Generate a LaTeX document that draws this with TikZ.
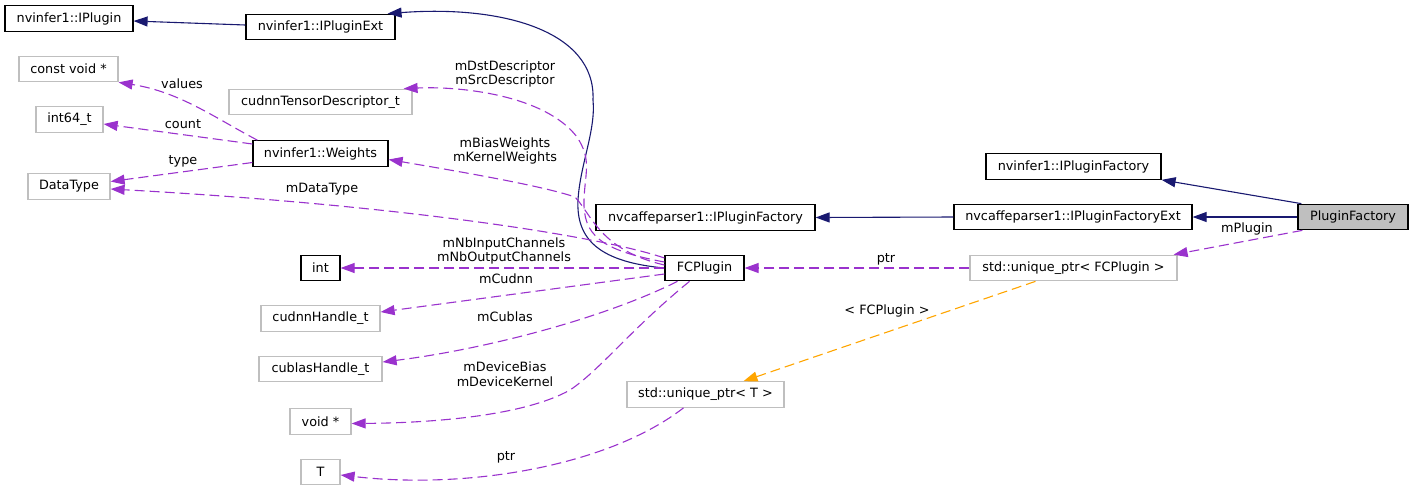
\documentclass[tikz,border=0pt]{standalone}
\usepackage{fontspec}
\setmainfont{DejaVu Sans}
\usepackage{tikz}
\usetikzlibrary{
  arrows.meta,
  positioning,
  calc
}
\definecolor{dgNavy}{HTML}{191970}
\definecolor{dgOrchid}{HTML}{9A32CD}
\definecolor{dgOrange}{HTML}{FFA500}
\definecolor{dgGrey}{HTML}{BFBFBF}
\tikzset{
  dgnode/.style={
    draw=black, fill=white, line width=1.2pt, minimum height=25.5pt,
    inner sep=0pt, font=\fontsize{12.8}{14.5}\selectfont
  },
  docbox/.style={dgnode},
  undocbox/.style={dgnode, draw=dgGrey},
  rootbox/.style={dgnode, fill=dgGrey},
  inherit/.style={-{Triangle[length=14pt, width=10pt]}, line width=1.1pt, dgNavy},
  usage/.style={-{Triangle[length=14pt, width=10pt]}, line width=1.1pt, dgOrchid, dash pattern=on 10pt off 5pt},
  tmpl/.style={-{Triangle[length=14pt, width=10pt]}, line width=1.1pt, dgOrange, dash pattern=on 10pt off 5pt},
  elabel/.style={font=\fontsize{12.8}{14.5}\selectfont, align=center, inner sep=0pt}
}

\begin{document}
\begin{tikzpicture}[x=1pt, y=-1pt]
  \useasboundingbox (0,0) rectangle (1413,491);

  \node[docbox, minimum width=128pt] (ipl) at (69,18.5) {nvinfer1::IPlugin};
  \node[docbox, minimum width=149pt] (iplext) at (320.5,27) {nvinfer1::IPluginExt};
  \node[undocbox, minimum width=99pt] (cvoid) at (68.5,69) {const void *};
  \node[undocbox, minimum width=183pt] (tdesc) at (320.5,102) {cudnnTensorDescriptor\_t};
  \node[undocbox, minimum width=67pt] (i64) at (69.5,119.5) {int64\_t};
  \node[docbox, minimum width=135pt] (wts) at (320.5,153.5) {nvinfer1::Weights};
  \node[undocbox, minimum width=82pt] (dtype) at (69,186.5) {DataType};
  \node[docbox, minimum width=39pt] (int) at (320.5,268) {int};
  \node[undocbox, minimum width=119pt] (cudnn) at (320.5,318.5) {cudnnHandle\_t};
  \node[undocbox, minimum width=123pt] (cublas) at (320.5,369) {cublasHandle\_t};
  \node[undocbox, minimum width=61pt] (vptr) at (320.5,421.5) {void *};
  \node[undocbox, minimum width=39pt] (tT) at (320.5,472) {T};
  \node[docbox, minimum width=219pt] (cpf) at (705.5,217.5) {nvcaffeparser1::IPluginFactory};
  \node[docbox, minimum width=79pt] (fc) at (704.5,268) {FCPlugin};
  \node[undocbox, minimum width=157pt] (uptrT) at (705.5,394.5) {std::unique\_ptr< T >};
  \node[docbox, minimum width=175pt] (ipf) at (1073.5,166.5) {nvinfer1::IPluginFactory};
  \node[docbox, minimum width=238pt] (cpfext) at (1073,217) {nvcaffeparser1::IPluginFactoryExt};
  \node[undocbox, minimum width=207pt] (uptrF) at (1073.5,268) {std::unique\_ptr< FCPlugin >};
  \node[rootbox, minimum width=110pt] (pf) at (1353,217) {PluginFactory};

  \draw[inherit] ($(iplext.west)+(0,-2)$) -- ($(ipl.east)+(0,2.5)$);
  \draw[inherit] (fc.west) .. controls (600,262) and (576,240) .. (578,200)
    .. controls (580,165) and (596,130) .. (593,100)
    .. controls (596,30) and (500,5) .. ($(iplext.north east)+(-8,0)$);
  \draw[inherit] (cpfext.west) -- (cpf.east);
  \draw[inherit] (pf.west) -- (cpfext.east);
  \draw[inherit] ($(pf.north west)+(4,0)$) -- (ipf.south east);

  \draw[usage] ($(wts.north west)+(5,0)$) .. controls (215,118) and (180,92) .. (cvoid.south east);
  \draw[usage] ($(wts.west)+(0,-9.5)$) -- ($(i64.east)+(0,4.5)$);
  \draw[usage] ($(wts.west)+(0,9)$) -- ($(dtype.east)+(0,-5)$);
  \draw[usage] ($(fc.west)+(0,-10)$) .. controls (600,236) and (400,205) .. ($(dtype.east)+(0,2.5)$);
  \draw[usage] ($(fc.west)+(0,-6)$) .. controls (600,250) and (583,235) .. (584,200)
    .. controls (585,172) and (592,160) .. (577,137)
    .. controls (545,95) and (460,86) .. ($(tdesc.north east)+(-9,0)$);
  \draw[usage] ($(fc.west)+(0,-3)$) .. controls (600,250) and (592,215) .. (575,197)
    .. controls (540,185) and (450,170) .. ($(wts.east)+(0,6)$);
  \draw[usage] (fc.west) -- (int.east);
  \draw[usage] ($(fc.west)+(0,6)$) -- ($(cudnn.east)+(0,-6.5)$);
  \draw[usage] ($(fc.south)+(-27,0)$) .. controls (600,320) and (480,350) .. ($(cublas.east)+(0,-7)$);
  \draw[usage] ($(fc.south)+(-15,0)$) .. controls (630,330) and (600,370) .. (570,390)
    .. controls (520,418) and (420,423) .. ($(vptr.east)+(0,2)$);
  \draw[usage] ($(uptrT.south)+(-22,0)$) .. controls (610,465) and (470,490) .. ($(tT.east)+(0,3)$);
  \draw[usage] (uptrF.west) -- (fc.east);
  \draw[usage] ($(pf.south west)+(5,0)$) -- ($(uptrF.north east)+(-4,0)$);
  \draw[tmpl] ($(uptrF.south)+(-38,0)$) -- ($(uptrT.north)+(38,0)$);

  \node[elabel] (lvalues) at (182,84) {values};
  \node[elabel] (lcount) at (183,124) {count};
  \node[elabel] (ltype) at (183,161) {type};
  \node[elabel] (ldtype) at (322,189) {mDataType};
  \node[elabel] (ldesc) at (505,74) {mDstDescriptor\\mSrcDescriptor};
  \node[elabel] (lwts) at (505,151) {mBiasWeights\\mKernelWeights};
  \node[elabel] (lchan) at (504,251) {mNbInputChannels\\mNbOutputChannels};
  \node[elabel] (lcudnn) at (506,279) {mCudnn};
  \node[elabel] (lcublas) at (505,317) {mCublas};
  \node[elabel] (ldev) at (505,374) {mDeviceBias\\mDeviceKernel};
  \node[elabel] (lptrT) at (506,457) {ptr};
  \node[elabel] (lptrF) at (886,259) {ptr};
  \node[elabel] (ltmpl) at (887,311) {< FCPlugin >};
  \node[elabel] (lplugin) at (1247,229) {mPlugin};
\end{tikzpicture}
\end{document}
